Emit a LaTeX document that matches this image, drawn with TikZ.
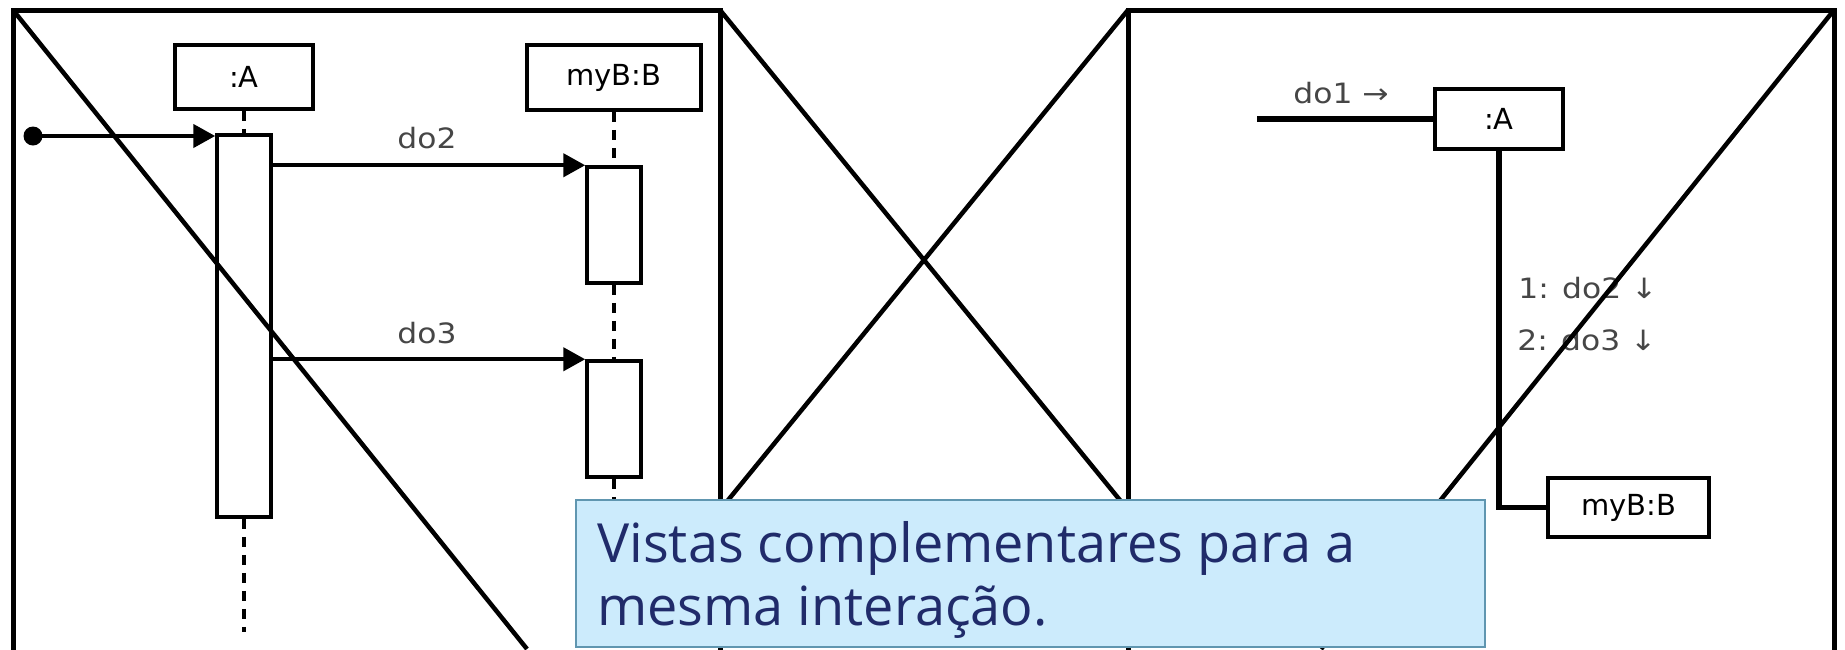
\documentclass[tikz,border=0pt]{standalone}
\usepackage{fontspec}
\usepackage{graphicx}
\usetikzlibrary{arrows.meta,calc}
\newfontfamily\notefont{Open Sans}
\newfontfamily\umlfont{DejaVu Sans}
\definecolor{notefill}{RGB}{204,235,252}
\definecolor{noteedge}{RGB}{96,150,176}
\definecolor{notetext}{RGB}{32,43,106}
\definecolor{lblgray}{RGB}{70,70,70}
\newcommand{\umltxt}[1]{\scalebox{1.12}[1]{#1}}
\begin{document}
\begin{tikzpicture}[x=0.5pt,y=-0.5pt,
  umlbox/.style={draw=black, line width=1.75pt, fill=white, inner sep=0pt,
    font=\umlfont\fontsize{14.5}{17}\selectfont},
  actbar/.style={draw=black, line width=1.75pt, fill=white, inner sep=0pt, minimum width=27pt},
  lifeline/.style={line width=2.2pt, dash pattern=on 5pt off 4pt},
  msg/.style={line width=2.2pt, -{Triangle[length=11pt,width=11.5pt]}},
  link/.style={line width=2.75pt},
  lbl/.style={inner sep=0pt, text=lblgray, font=\umlfont\fontsize{14}{17}\selectfont},
  frameline/.style={line width=2.5pt},
  diagline/.style={line width=2.25pt},
  notebox/.style={draw=noteedge, fill=notefill, line width=1pt, inner sep=0pt},
  notetxt/.style={inner sep=0pt, text=notetext, font=\notefont\fontsize{27}{33}\selectfont}]
\useasboundingbox (0,0) rectangle (1845,649);
\fill[white] (0,0) rectangle (1845,649);
\clip (0,0) rectangle (1845,649);

% ---------- sequence diagram (left panel) ----------
\node[umlbox, minimum width=69pt, minimum height=32pt] (headA) at (244,77) {:A};
\node[umlbox, minimum width=87pt, minimum height=32.5pt] (headB) at (614,77.5) {myB:B};
\node[actbar, minimum height=191pt] (barA) at (244,326) {};
\node[actbar, minimum height=58pt] (barB1) at (614,225) {};
\node[actbar, minimum height=58pt] (barB2) at (614,419) {};
\node[circle, fill=black, inner sep=0pt, minimum size=9.5pt] (dot) at (33,136) {};
\coordinate (endA) at (244,632);
\coordinate (endB) at (614,505);

\draw[lifeline] (headA) -- (barA);
\draw[lifeline] (barA) -- (endA);
\draw[lifeline] (headB) -- (barB1);
\draw[lifeline] (barB1) -- (barB2);
\draw[lifeline] (barB2) -- (endB);

\draw[msg] (dot.center) -- (dot -| barA.west);
\draw[msg] (barB1.north west -| barA.east) -- (barB1.north west);
\draw[msg] (barB2.north west -| barA.east) -- (barB2.north west);
\node[lbl, anchor=base] (ldo2) at (427,148) {\umltxt{do2}};
\node[lbl, anchor=base] (ldo3) at (427,343) {\umltxt{do3}};

% ---------- communication diagram (right panel) ----------
\node[umlbox, minimum width=64pt, minimum height=30pt] (colA) at (1499,119) {:A};
\node[umlbox, minimum width=80.5pt, minimum height=29.5pt] (colB) at (1628.5,507.5) {myB:B};
\coordinate (do1start) at (1257,119);
\draw[link] (do1start) -- (colA);
\draw[link] (colA.south) |- (colB.west);
\node[lbl, anchor=base west] (ldo1) at (1293,103) {\umltxt{do1 →}};
\node[lbl, anchor=base west] (l1) at (1518,298) {\umltxt{1: do2 ↓}};
\node[lbl, anchor=base west] (l2) at (1517,350) {\umltxt{2: do3 ↓}};

% ---------- frames and crossing lines ----------
\draw[frameline] (13,660) -- (13,10) -- (720,10) -- (720,660);
\draw[frameline] (1128,660) -- (1128,10) -- (1834,10) -- (1834,660);
\draw[diagline] (13,10) -- (527,649);
\draw[diagline] (720,10) -- (1128,510);
\draw[diagline] (1128,10) -- (720,510);
\draw[diagline] (1834,10) -- (1321,649);

% ---------- note ----------
\node[notebox, minimum width=454.5pt, minimum height=73.5pt] (note) at (1030.5,573.5) {};
\node[notetxt, anchor=base west] (note1) at (597,562) {Vistas complementares para a};
\node[notetxt, anchor=base west] (note2) at (597,625) {mesma interação.};
\end{tikzpicture}
\end{document}
